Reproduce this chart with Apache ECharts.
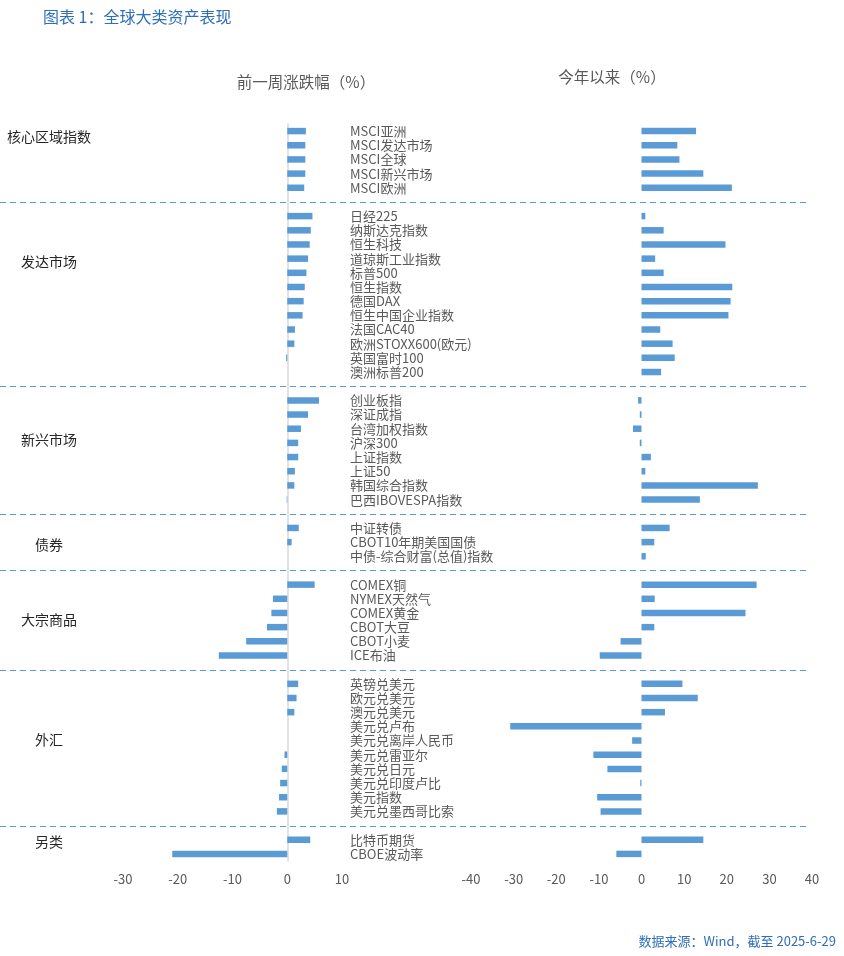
<!DOCTYPE html>
<html>
<head>
<meta charset="utf-8">
<script src="https://cdn.jsdelivr.net/npm/echarts@6/dist/echarts.min.js"></script>
<style>
  html, body { margin: 0; padding: 0; background: #fff; }
  #main { width: 844px; height: 956px; }
</style>
</head>
<body>
<div id="main"></div>
<script>
// 分组名称与每组条目数
var groupNames = ['核心区域指数', '发达市场', '新兴市场', '债券', '大宗商品', '外汇', '另类'];
var groupSizes = [5, 12, 8, 3, 6, 10, 2];

// 资产名称
var assetNames = [
    'MSCI亚洲', 'MSCI发达市场', 'MSCI全球', 'MSCI新兴市场', 'MSCI欧洲',
    '日经225', '纳斯达克指数', '恒生科技', '道琼斯工业指数', '标普500', '恒生指数',
    '德国DAX', '恒生中国企业指数', '法国CAC40', '欧洲STOXX600(欧元)', '英国富时100', '澳洲标普200',
    '创业板指', '深证成指', '台湾加权指数', '沪深300', '上证指数', '上证50', '韩国综合指数', '巴西IBOVESPA指数',
    '中证转债', 'CBOT10年期美国国债', '中债-综合财富(总值)指数',
    'COMEX铜', 'NYMEX天然气', 'COMEX黄金', 'CBOT大豆', 'CBOT小麦', 'ICE布油',
    '英镑兑美元', '欧元兑美元', '澳元兑美元', '美元兑卢布', '美元兑离岸人民币', '美元兑雷亚尔',
    '美元兑日元', '美元兑印度卢比', '美元指数', '美元兑墨西哥比索',
    '比特币期货', 'CBOE波动率'
];

// 前一周涨跌幅（%）
var weekChange = [
    3.4, 3.3, 3.3, 3.3, 3.1,
    4.6, 4.3, 4.1, 3.8, 3.5, 3.2, 3.0, 2.8, 1.4, 1.3, -0.2, 0,
    5.8, 3.8, 2.5, 2.0, 2.0, 1.4, 1.3, -0.1,
    2.1, 0.8, 0,
    5.0, -2.6, -2.9, -3.7, -7.5, -12.5,
    2.0, 1.7, 1.3, 0, 0, -0.5, -1.0, -1.3, -1.5, -1.9,
    4.2, -21.0
];

// 今年以来（%）
var ytdChange = [
    12.8, 8.4, 8.9, 14.5, 21.2,
    0.9, 5.2, 19.7, 3.2, 5.2, 21.3, 20.9, 20.4, 4.4, 7.3, 7.8, 4.6,
    -0.8, -0.4, -2.0, -0.4, 2.2, 0.9, 27.3, 13.7,
    6.6, 3.0, 1.0,
    27.0, 3.1, 24.4, 3.0, -4.9, -9.8,
    9.6, 13.2, 5.5, -30.8, -2.2, -11.3, -8.0, -0.3, -10.4, -9.6,
    14.5, -5.9
];

// 坐标轴刻度
var weekTicks = { min: -30, max: 10, interval: 10 };
var ytdTicks = { min: -40, max: 40, interval: 10 };

// 组间插入空行
var rows = [], weekRows = [], ytdRows = [], blankRows = [];
var k = 0;
groupSizes.forEach(function (n, g) {
    for (var i = 0; i < n; i++, k++) {
        rows.push(assetNames[k]);
        weekRows.push(weekChange[k]);
        ytdRows.push(ytdChange[k]);
    }
    if (g < groupSizes.length - 1) {
        blankRows.push(rows.length);
        rows.push('');
        weekRows.push(null);
        ytdRows.push(null);
    }
});

var FONT = '"Noto Sans CJK SC", "Noto Sans", sans-serif';
var GRAY = '#595959';
var BLUE = '#5b9bd5';

var myChart = echarts.init(document.getElementById('main'));

// 分组标签位置
var groupLabelY = [137, 262, 440, 545, 620, 740, 842];

var option = {
    backgroundColor: '#fff',
    animation: false,
    textStyle: { fontFamily: FONT },
    grid: [
        { left: 123, right: 502, top: 124, bottom: 95 },
        { left: 471, right: 32, top: 124, bottom: 95 }
    ],
    xAxis: [
        {
            gridIndex: 0, type: 'value',
            min: weekTicks.min, max: weekTicks.max, interval: weekTicks.interval,
            splitLine: { show: false },
            axisLine: { show: false },
            axisTick: { show: false },
            axisLabel: { color: GRAY, fontSize: 13, margin: 12, fontFamily: FONT }
        },
        {
            gridIndex: 1, type: 'value',
            min: ytdTicks.min, max: ytdTicks.max, interval: ytdTicks.interval,
            splitLine: { show: false },
            axisLine: { show: false },
            axisTick: { show: false },
            axisLabel: { color: GRAY, fontSize: 13, margin: 12, fontFamily: FONT }
        }
    ],
    yAxis: [
        {
            gridIndex: 0, type: 'category', data: rows, inverse: true,
            axisLine: { onZero: true, lineStyle: { color: '#d9d9d9', width: 1.5 } },
            axisTick: { show: false },
            axisLabel: { show: false }
        },
        {
            gridIndex: 1, type: 'category', data: rows, inverse: true,
            axisLine: { show: false },
            axisTick: { show: false },
            axisLabel: {
                color: GRAY, fontSize: 13, align: 'left', margin: 121,
                interval: 0, fontFamily: FONT
            }
        }
    ],
    series: [
        {
            name: '前一周涨跌幅', type: 'bar',
            xAxisIndex: 0, yAxisIndex: 0,
            data: weekRows, barWidth: 6.5,
            itemStyle: { color: BLUE }
        },
        {
            name: '今年以来', type: 'bar',
            xAxisIndex: 1, yAxisIndex: 1,
            data: ytdRows, barWidth: 6.5,
            itemStyle: { color: BLUE }
        }
    ],
    graphic: []
};

myChart.setOption(option);

// 标题、分组标签和分隔虚线
var graphics = [
    {
        type: 'text', x: 43, y: 17,
        style: { text: '图表 1：全球大类资产表现', fill: '#2f6eba', fontSize: 16, fontFamily: FONT, verticalAlign: 'middle' }
    },
    {
        type: 'text', x: 306, y: 82,
        style: { text: '前一周涨跌幅（%）', fill: GRAY, fontSize: 15.5, fontFamily: FONT, align: 'center', verticalAlign: 'middle' }
    },
    {
        type: 'text', x: 612, y: 77,
        style: { text: '今年以来（%）', fill: GRAY, fontSize: 15.5, fontFamily: FONT, align: 'center', verticalAlign: 'middle' }
    },
    {
        type: 'text', x: 836, y: 941,
        style: { text: '数据来源：Wind，截至 2025-6-29', fill: '#2f6eba', fontSize: 13, fontFamily: FONT, align: 'right', verticalAlign: 'middle' }
    }
];

groupNames.forEach(function (name, i) {
    graphics.push({
        type: 'text', x: 49, y: groupLabelY[i],
        style: { text: name, fill: '#262626', fontSize: 14, fontFamily: FONT, align: 'center', verticalAlign: 'middle' }
    });
});

blankRows.forEach(function (idx) {
    var y = Math.round(myChart.convertToPixel({ yAxisIndex: 1 }, idx)) + 0.5;
    graphics.push({
        type: 'line',
        shape: { x1: 0, y1: y, x2: 810, y2: y },
        style: { stroke: BLUE, lineWidth: 1, lineDash: [6, 4] }
    });
});

myChart.setOption({ graphic: graphics });
</script>
</body>
</html>
